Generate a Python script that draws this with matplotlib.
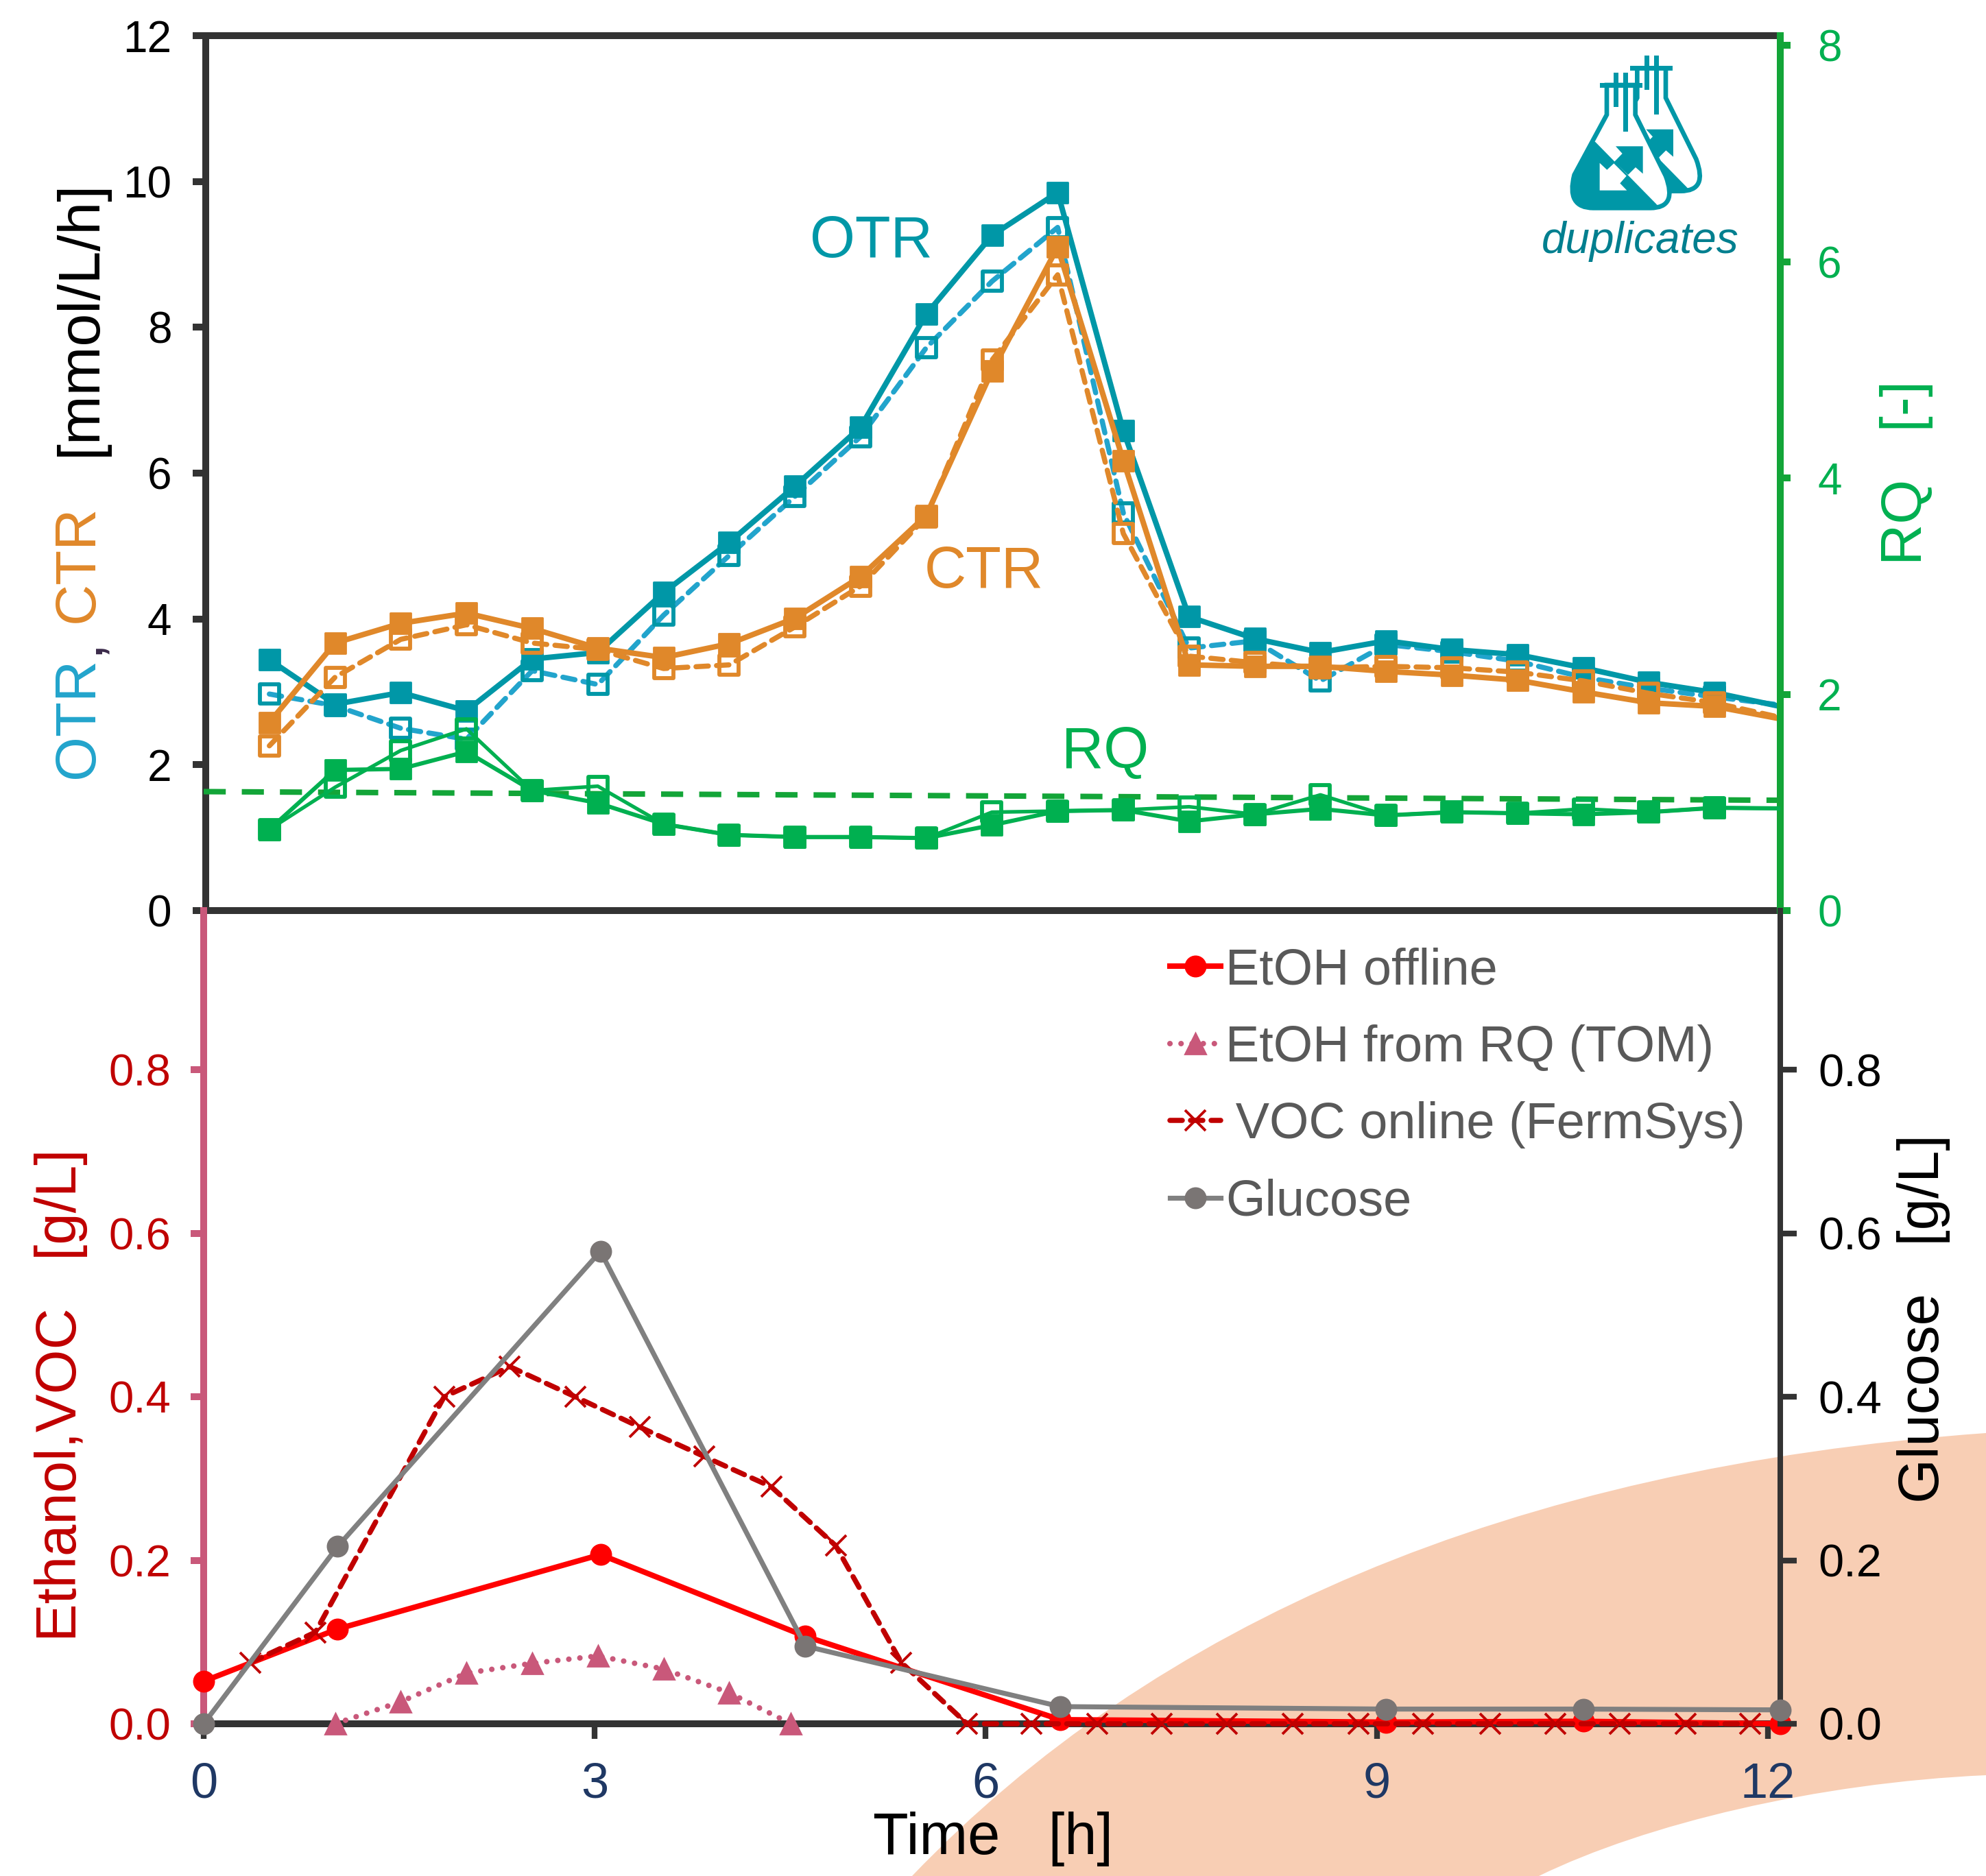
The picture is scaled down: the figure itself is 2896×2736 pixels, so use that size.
import numpy as np
import matplotlib
matplotlib.use("Agg")
import matplotlib.pyplot as plt
from matplotlib.markers import MarkerStyle
from matplotlib.path import Path
from matplotlib.patches import PathPatch, Polygon, Rectangle

plt.rcParams["font.family"] = ["Liberation Sans", "DejaVu Sans"]

W, H = 2896, 2736
DPI = 200

# top panel, hourly-ish readings
t_rates = [0.5, 1, 1.5, 2, 2.5, 3, 3.5, 4, 4.5, 5, 5.5, 6, 6.5, 7, 7.5, 8, 8.5, 9, 9.5, 10, 10.5, 11, 11.5, 12]
otr_a = [3.44, 2.83, 2.99, 2.74, 3.45, 3.54, 4.36, 5.05, 5.82, 6.63, 8.18, 9.26, 9.85, 6.58, 4.03, 3.73, 3.54, 3.70, 3.58, 3.51, 3.33, 3.13, 2.99, 2.80]
otr_b = [2.97, 2.81, 2.50, 2.35, 3.29, 3.10, 4.05, 4.87, 5.68, 6.50, 7.72, 8.63, 9.37, 5.45, 3.60, 3.70, 3.15, 3.65, 3.55, 3.42, 3.20, 3.05, 2.93, 2.82]
ctr_a = [2.58, 3.67, 3.94, 4.08, 3.87, 3.60, 3.47, 3.66, 4.01, 4.58, 5.42, 7.40, 9.10, 6.17, 3.37, 3.35, 3.35, 3.28, 3.23, 3.16, 3.00, 2.85, 2.80, 2.63]
ctr_b = [2.26, 3.20, 3.72, 3.92, 3.67, 3.58, 3.32, 3.37, 3.89, 4.45, 5.40, 7.55, 8.72, 5.17, 3.49, 3.40, 3.33, 3.35, 3.33, 3.27, 3.15, 2.98, 2.85, 2.65]
rq_a = [0.75, 1.30, 1.31, 1.47, 1.11, 0.995, 0.80, 0.70, 0.68, 0.68, 0.67, 0.79, 0.92, 0.93, 0.825, 0.89, 0.94, 0.88, 0.91, 0.90, 0.89, 0.91, 0.95, 0.945]
rq_b = [0.75, 1.14, 1.48, 1.68, 1.11, 1.15, 0.80, 0.70, 0.68, 0.68, 0.67, 0.91, 0.92, 0.93, 0.96, 0.89, 1.07, 0.88, 0.91, 0.90, 0.94, 0.91, 0.95, 0.945]
rq_ref_t = [0, 12]
rq_ref = [1.10, 1.02]

# bottom panel
t_offline = [0, 1.02, 3.02, 4.58, 6.52, 9.0, 10.5, 12]
etoh_offline = [0.052, 0.116, 0.207, 0.107, 0.005, 0.002, 0.003, 0.0]
glucose = [0, 0.217, 0.578, 0.095, 0.021, 0.018, 0.018, 0.017]
t_tom = [1.0, 1.5, 2, 2.5, 3, 3.5, 4, 4.47]
etoh_tom = [0, 0.027, 0.062, 0.074, 0.083, 0.067, 0.038, 0.0]
t_voc = [0.355, 0.85, 1.83, 2.33, 2.83, 3.32, 3.81, 4.32, 4.81, 5.31, 5.81, 6.30, 6.80, 7.29, 7.79, 8.29, 8.79, 9.28, 9.79, 10.29, 10.78, 11.28, 11.77]
voc = [0.075, 0.112, 0.40, 0.437, 0.40, 0.363, 0.327, 0.29, 0.218, 0.075, 0, 0, 0, 0, 0, 0, 0, 0, 0, 0, 0, 0, 0]

# the printed time ticks sit a little short of the data scale
time_tick_pos = [0, 2.976, 5.953, 8.93, 11.905]
time_tick_labels = ["0", "3", "6", "9", "12"]

TEAL = "#0097A7"
LIGHT_BLUE = "#22A4CC"
ORANGE = "#E0882A"
GREEN = "#00B050"
DARK_GREEN = "#13A538"
DARK = "#333333"
PINK = "#C9587A"
DARK_RED = "#C00000"
GREY = "#808080"
PEACH = "#F8CEB4"

X0, X1 = 297, 2596
Y_TOP, Y_MID, Y_BOT = 52, 1328, 2514

SQUARE = MarkerStyle("s", joinstyle="round")
# no marker on the 12 h reading in the top panel
RATE_MARKS = list(range(len(t_rates) - 1))
DASH = (0, (2.4, 1.6))


def axes_rect(y_top, y_bot):
    return [X0 / W, 1 - y_bot / H, (X1 - X0) / W, (y_bot - y_top) / H]


def draw_background(bg):
    bg.set_xlim(0, W)
    bg.set_ylim(H, 0)
    bg.axis("off")
    verts = [(1330, 2736), (1680, 2370), (2200, 2140), (2896, 2090),
             (2896, 2589), (2650, 2600), (2400, 2660), (2244, 2736), (1330, 2736)]
    codes = [Path.MOVETO, Path.CURVE4, Path.CURVE4, Path.CURVE4,
             Path.LINETO, Path.CURVE4, Path.CURVE4, Path.CURVE4, Path.CLOSEPOLY]
    bg.add_patch(PathPatch(Path(verts, codes), fc=PEACH, ec="none"))


def draw_flask(bg, dx, dy):
    # coordinates come from a 3x crop that starts at (2150, 40)
    def p(x, y):
        return (2150 + (x + dx) / 3, 40 + (y + dy) / 3)

    body_pts = [p(579, 252), p(579, 382), p(437, 645), p(400, 790), p(520, 790), p(770, 790),
                p(890, 790), p(837, 650), p(704, 382), p(704, 252), p(579, 252)]
    body_codes = [Path.MOVETO, Path.LINETO, Path.LINETO, Path.CURVE3, Path.CURVE3, Path.LINETO,
                  Path.CURVE3, Path.CURVE3, Path.LINETO, Path.LINETO, Path.CLOSEPOLY]
    body = PathPatch(Path(body_pts, body_codes), fc="white", ec=TEAL, lw=2.4)
    bg.add_patch(body)

    liquid = Polygon([p(528, 500), p(795, 772), p(900, 900), p(350, 900), p(350, 500)], fc=TEAL, ec="none")
    bg.add_patch(liquid)
    liquid.set_clip_path(body)

    up_arrow = [p(618, 520), p(737, 520), p(737, 640), p(705, 612), p(672, 645), p(612, 588), p(647, 552)]
    bg.add_patch(Polygon(up_arrow, fc=TEAL, ec="none"))
    down_arrow = [p(548, 593), p(548, 713), p(667, 713), p(637, 682), p(665, 650), p(610, 595), p(580, 623)]
    bg.add_patch(Polygon(down_arrow, fc="white", ec="none"))

    for x0, y0, x1, y1 in [(548, 242, 735, 263), (610, 198, 631, 348), (652, 198, 673, 455)]:
        a = p(x0, y0)
        b = p(x1, y1)
        bg.add_patch(Rectangle(a, b[0] - a[0], b[1] - a[1], fc=TEAL, ec="none"))


def draw_rates(ax, axr):
    ax.plot(t_rates, otr_b, color=LIGHT_BLUE, ls=DASH, lw=2.7, dash_capstyle="round",
            marker=SQUARE, ms=10.2, mfc="none", mec=TEAL, mew=2.1, markevery=RATE_MARKS, zorder=3)
    ax.plot(t_rates, otr_a, color=TEAL, lw=2.9, marker=SQUARE, ms=11, mec=TEAL, mew=1,
            markevery=RATE_MARKS, zorder=4)
    ax.plot(t_rates, ctr_b, color=ORANGE, ls=DASH, lw=2.7, dash_capstyle="round",
            marker=SQUARE, ms=10.2, mfc="none", mec=ORANGE, mew=2.1, markevery=RATE_MARKS, zorder=5)
    ax.plot(t_rates, ctr_a, color=ORANGE, lw=2.9, marker=SQUARE, ms=11, mec=ORANGE, mew=1,
            markevery=RATE_MARKS, zorder=6)

    ax.set_xlim(0, 12)
    ax.set_ylim(0, 12)
    ax.set_yticks(range(0, 13, 2))
    ax.set_xticks([])
    ax.tick_params(axis="y", labelsize=23, length=6.8, width=3.6, color=DARK, pad=11)
    ax.patch.set_alpha(0)
    ax.spines["right"].set_visible(False)
    for side in ["left", "top", "bottom"]:
        ax.spines[side].set_linewidth(3.6)
        ax.spines[side].set_color(DARK)
    ax.spines["left"].set_position(("outward", -1.0))

    ax.text(5.08, 9.17, "OTR", color=TEAL, fontsize=30.5, ha="center", va="center", zorder=8)
    ax.text(5.94, 4.64, "CTR", color=ORANGE, fontsize=30.5, ha="center", va="center", zorder=8)
    ax.text(6.86, 2.16, "RQ", color=GREEN, fontsize=30.5, ha="center", va="center", zorder=8)

    axr.plot(rq_ref_t, rq_ref, color=DARK_GREEN, ls=(0, (4, 2.9)), lw=2.9, zorder=2)
    axr.plot(t_rates, rq_b, color=GREEN, lw=1.9, marker=SQUARE, ms=10.2, mfc="none", mec=GREEN, mew=2.1,
             markevery=RATE_MARKS, zorder=3)
    axr.plot(t_rates, rq_a, color=GREEN, lw=2.2, marker=SQUARE, ms=11, mec=GREEN, mew=1,
             markevery=RATE_MARKS, zorder=4)
    axr.set_ylim(0, 8.09)
    axr.set_yticks(range(0, 9, 2))
    axr.tick_params(axis="y", labelsize=23, length=5.5, width=3.6, color=DARK_GREEN, labelcolor=GREEN, pad=14)
    axr.patch.set_alpha(0)
    for side in ["left", "top", "bottom"]:
        axr.spines[side].set_visible(False)
    axr.spines["right"].set_linewidth(3.6)
    axr.spines["right"].set_color(DARK_GREEN)


def draw_fermentation(ax, axr):
    h1, = ax.plot(t_offline, etoh_offline, color="#FF0000", lw=2.9, marker="o", ms=10.5, clip_on=False, zorder=5,
                  label="EtOH offline")
    h2, = ax.plot(t_tom, etoh_tom, color=PINK, ls=(0, (0.01, 2.0)), lw=2.9, dash_capstyle="round",
                  marker="^", ms=10.5, clip_on=False, zorder=4, label="EtOH from RQ (TOM)")
    h3, = ax.plot(t_voc, voc, color=DARK_RED, ls=DASH, lw=2.7, dash_capstyle="round", marker="x", ms=11, mew=1.4,
                  clip_on=False, zorder=6, label="\u2009VOC online (FermSys)")
    ax.set_xlim(0, 12)
    ax.set_ylim(0, 0.995)
    ax.set_yticks([0, 0.2, 0.4, 0.6, 0.8])
    ax.set_yticklabels(["0.0", "0.2", "0.4", "0.6", "0.8"])
    ax.set_xticks(time_tick_pos)
    ax.set_xticklabels(time_tick_labels)
    ax.tick_params(axis="y", labelsize=23.5, length=6.8, width=3.6, color=PINK, labelcolor=DARK_RED, pad=10.5)
    ax.tick_params(axis="x", labelsize=26, length=8, width=3, color=DARK, labelcolor="#1F3864", pad=12)
    ax.patch.set_alpha(0)
    ax.spines["top"].set_visible(False)
    ax.spines["right"].set_visible(False)
    ax.spines["left"].set_linewidth(3.6)
    ax.spines["left"].set_color(PINK)
    ax.spines["bottom"].set_linewidth(3.6)
    ax.spines["bottom"].set_color(DARK)

    h4, = axr.plot(t_offline, glucose, color=GREY, lw=2.6, marker="o", ms=10.5, mfc="#7A7574", mec="#7A7574",
                   clip_on=False, zorder=7, label="Glucose")
    axr.set_ylim(0, 0.995)
    axr.set_yticks([0, 0.2, 0.4, 0.6, 0.8])
    axr.set_yticklabels(["0.0", "0.2", "0.4", "0.6", "0.8"])
    axr.tick_params(axis="y", labelsize=24, length=8.5, width=3, color=DARK, pad=11.5)
    axr.patch.set_alpha(0)
    for side in ["left", "top", "bottom"]:
        axr.spines[side].set_visible(False)
    axr.spines["right"].set_linewidth(2.9)
    axr.spines["right"].set_color(DARK)
    return [h1, h2, h3, h4]


def main():
    fig = plt.figure(figsize=(W / DPI, H / DPI), dpi=DPI, facecolor="white")

    bg = fig.add_axes([0, 0, 1, 1], zorder=0)
    draw_background(bg)
    draw_flask(bg, 133, -74)
    draw_flask(bg, 0, 0)
    bg.text(2392, 352, "duplicates", color="#007F8F", fontsize=23, style="italic", ha="center", va="center")

    # rotated axis titles have several colours, so they are placed by hand
    rot = dict(rotation=90, ha="center", va="center", fontsize=30)
    bg.text(114, 1047, "OTR", color=LIGHT_BLUE, **rot)
    bg.text(120, 942, ",", color="#3B2A4A", **rot)
    bg.text(114, 822, "CTR", color=ORANGE, **rot)
    bg.text(118, 464, "[mmol/L/h]", color="black", rotation=90, ha="center", va="center", fontsize=31)
    bg.text(2780, 689, "RQ   [-]", color=GREEN, **rot)
    bg.text(89, 2035, "Ethanol,VOC   [g/L]", color=DARK_RED, **rot)
    bg.text(2805, 1923, "Glucose   [g/L]", color="black", **rot)
    bg.text(1448, 2682, "Time   [h]", color="black", fontsize=30.5, ha="center", va="center")

    ax_top = fig.add_axes(axes_rect(Y_TOP, Y_MID), zorder=1)
    ax_top_r = ax_top.twinx()
    ax_top_r.set_zorder(2)
    draw_rates(ax_top, ax_top_r)

    ax_bot = fig.add_axes(axes_rect(Y_MID, Y_BOT), zorder=3)
    ax_bot_r = ax_bot.twinx()
    ax_bot_r.set_zorder(4)
    handles = draw_fermentation(ax_bot, ax_bot_r)

    leg = ax_bot_r.legend(handles=handles, loc="upper left", bbox_to_anchor=(1706 / W, 1 - 1381 / H),
                          bbox_transform=fig.transFigure, frameon=False, fontsize=26.6, borderpad=0,
                          borderaxespad=0, handlelength=1.0, handletextpad=0.1, labelspacing=0.59,
                          numpoints=1)
    for text in leg.get_texts():
        text.set_color("#595959")

    fig.savefig("out.png", dpi=DPI)


if __name__ == "__main__":
    main()
